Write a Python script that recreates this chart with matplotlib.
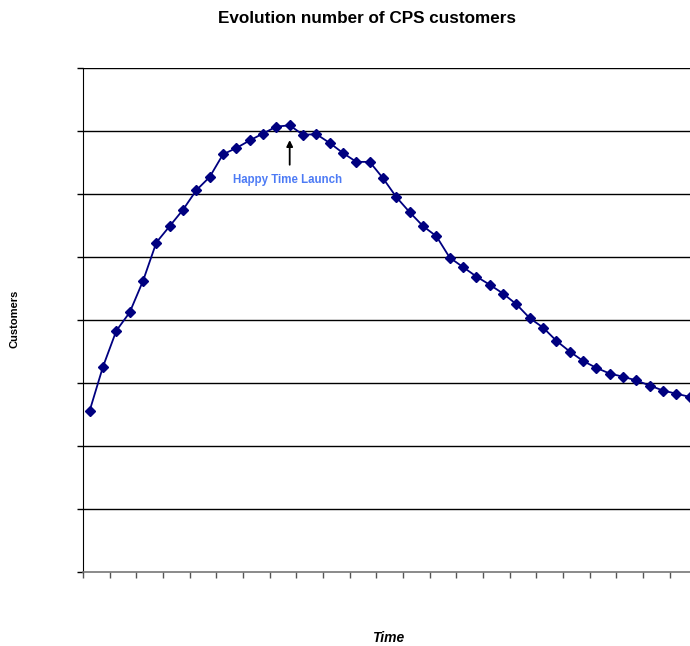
import numpy as np
import matplotlib
matplotlib.use('Agg')
import matplotlib.pyplot as plt

plt.rcParams['font.family'] = ['Liberation Sans', 'DejaVu Sans']

# Customers per period (one value per time step, grid units)
periods = np.arange(46)
customers = [2.56, 3.26, 3.83, 4.12, 4.62, 5.23, 5.49, 5.75, 6.06, 6.27,
             6.63, 6.73, 6.85, 6.96, 7.07, 7.09, 6.94, 6.95, 6.81, 6.65,
             6.51, 6.51, 6.25, 5.95, 5.71, 5.49, 5.33, 4.99, 4.84, 4.69,
             4.56, 4.42, 4.25, 4.03, 3.88, 3.67, 3.50, 3.35, 3.24, 3.15,
             3.10, 3.04, 2.96, 2.88, 2.83, 2.78]
launch_period = 15

fig = plt.figure(figsize=(6.9, 6.46), dpi=100)
ax = fig.add_axes([83/690, 74/646, 607/690, 504/646])

# horizontal grid
for g in range(1, 9):
    ax.axhline(g, color='black', lw=1.0, zorder=1)

ax.plot(periods, customers, color='#000080', lw=1.3, marker='D',
        markersize=5, markerfacecolor='#000080', markeredgecolor='#000080',
        zorder=3, clip_on=True)

ax.set_xticks(np.arange(-0.5, 46, 2))
ax.set_yticks(np.arange(0, 9, 1))
# set limits after ticks so they are not widened
ax.set_xlim(-0.5, 45.02)
ax.set_ylim(0, 8)
ax.tick_params(axis='both', direction='out', length=4, width=1,
               labelleft=False, labelbottom=False)
ax.tick_params(axis='x', color='#555555')

ax.spines['top'].set_visible(False)
ax.spines['right'].set_visible(False)
ax.spines['left'].set_color('black')
ax.spines['bottom'].set_color('#777777')
ax.spines['bottom'].set_linewidth(1.2)

ax.annotate('', xy=(launch_period, 6.9), xytext=(launch_period, 6.42),
            arrowprops=dict(arrowstyle='-|>', color='black', lw=1.3,
                            mutation_scale=9))
ax.text(launch_period - 0.15, 6.22, 'Happy Time Launch', color='#4d7bf5',
        fontsize=8.3, fontweight='bold', ha='center', va='center')

fig.text(367/690, 1 - 18.5/646, 'Evolution number of CPS customers',
         fontsize=12.3, fontweight='bold', ha='center', va='center')
fig.text(15/690, 1 - 319/646, 'Customers', fontsize=8, fontweight='bold',
         rotation=90, ha='center', va='center')
fig.text(388/690, 1 - 638/646, 'Time', fontsize=10, fontweight='bold',
         fontstyle='italic', ha='center', va='center')

fig.savefig('out.png', dpi=100)
